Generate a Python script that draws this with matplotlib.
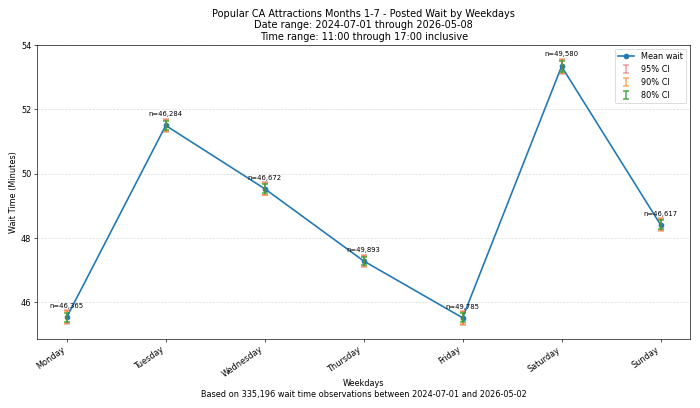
import numpy as np
import matplotlib
matplotlib.use("Agg")
import matplotlib.pyplot as plt

days = ["Monday", "Tuesday", "Wednesday", "Thursday", "Friday", "Saturday", "Sunday"]
mean_wait = [45.53, 51.50, 49.53, 47.28, 45.51, 53.34, 48.41]
ci95 = [0.22, 0.21, 0.21, 0.20, 0.21, 0.24, 0.21]
ci90 = [0.18, 0.18, 0.18, 0.17, 0.18, 0.20, 0.18]
ci80 = [0.14, 0.14, 0.14, 0.13, 0.14, 0.16, 0.14]
counts = ["46,365", "46,284", "46,672", "49,893", "49,785", "49,580", "46,617"]

x = np.arange(len(days))

fig, ax = plt.subplots(figsize=(12, 7), dpi=700 / 12)
ax.plot(x, mean_wait, marker="o", color="tab:blue", lw=2, label="Mean wait")
ax.errorbar(x, mean_wait, yerr=ci95, fmt="none", ecolor="tab:red", alpha=0.4,
            elinewidth=2, capsize=4, capthick=2, label="95% CI")
ax.errorbar(x, mean_wait, yerr=ci90, fmt="none", ecolor="tab:orange", alpha=0.6,
            elinewidth=2, capsize=4, capthick=2, label="90% CI")
ax.errorbar(x, mean_wait, yerr=ci80, fmt="none", ecolor="tab:green", alpha=0.8,
            elinewidth=2, capsize=4, capthick=2, label="80% CI")

for i in range(len(days)):
    ax.annotate("n=" + counts[i], (x[i], mean_wait[i] + ci95[i]), xytext=(0, 2),
                textcoords="offset points", ha="center", va="bottom", fontsize=8.5)

ax.set_xticks(x)
ax.set_xticklabels(days, rotation=35, ha="right")
ax.set_xlim(-0.3, 6.3)
ax.set_ylim(44.85, 54.02)
ax.set_yticks([46, 48, 50, 52, 54])
ax.grid(axis="y", linestyle="--", alpha=0.5)
ax.set_ylabel("Wait Time (Minutes)")
ax.set_xlabel("Weekdays\nBased on 335,196 wait time observations between 2024-07-01 and 2026-05-02",
              labelpad=0)
ax.set_title("Popular CA Attractions Months 1-7 - Posted Wait by Weekdays\n"
             "Date range: 2024-07-01 through 2026-05-08\n"
             "Time range: 11:00 through 17:00 inclusive", fontsize=12)
ax.legend(loc="upper right")

fig.subplots_adjust(left=0.053, right=0.986, top=0.89, bottom=0.169)
fig.savefig("out.png", dpi=700 / 12)
